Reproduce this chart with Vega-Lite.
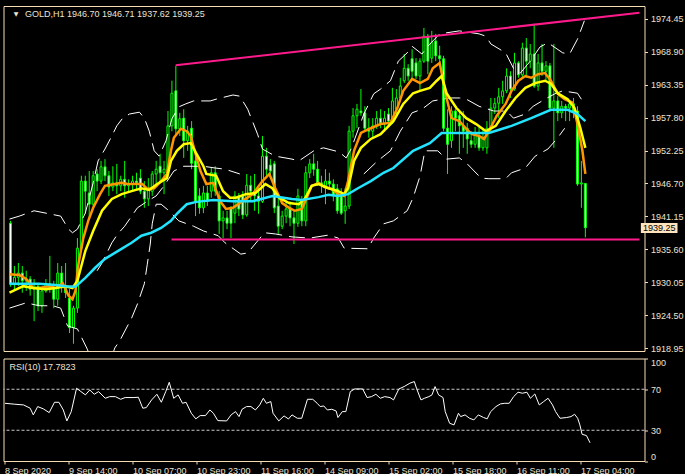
{
"$schema":"https://vega.github.io/schema/vega-lite/v6.json",
"background":"#000000",
"padding":{"left":2.5,"top":5,"right":0,"bottom":0},
"datasets":{
"c":[
{"i":0,"o":1940.0,"h":1940.4,"l":1929.3,"c":1929.8},{"i":1,"o":1929.8,"h":1932.8,"l":1928.6,"c":1930.9},{"i":2,"o":1930.9,"h":1933.3,"l":1929.4,"c":1931.6},{"i":3,"o":1931.6,"h":1932.8,"l":1928.3,"c":1930.3},{"i":4,"o":1930.3,"h":1932.0,"l":1928.6,"c":1930.6},{"i":5,"o":1930.6,"h":1931.1,"l":1927.8,"c":1928.9},{"i":6,"o":1928.9,"h":1930.6,"l":1923.5,"c":1929.4},{"i":7,"o":1929.4,"h":1929.9,"l":1925.2,"c":1926.1},{"i":8,"o":1926.1,"h":1928.9,"l":1924.9,"c":1928.6},{"i":9,"o":1928.6,"h":1930.6,"l":1928.3,"c":1929.8},
{"i":10,"o":1929.8,"h":1934.5,"l":1928.3,"c":1929.1},{"i":11,"o":1929.1,"h":1930.3,"l":1925.7,"c":1927.2},{"i":12,"o":1927.2,"h":1933.3,"l":1926.1,"c":1931.6},{"i":13,"o":1931.6,"h":1932.8,"l":1928.3,"c":1929.4},{"i":14,"o":1929.4,"h":1933.3,"l":1927.4,"c":1928.3},{"i":15,"o":1927.4,"h":1928.9,"l":1921.5,"c":1922.4},{"i":16,"o":1922.4,"h":1926.1,"l":1919.7,"c":1925.7},{"i":17,"o":1925.7,"h":1937.5,"l":1924.9,"c":1935.8},{"i":18,"o":1935.8,"h":1948.0,"l":1935.3,"c":1947.1},{"i":19,"o":1947.1,"h":1948.0,"l":1941.6,"c":1945.4},
{"i":20,"o":1945.1,"h":1948.8,"l":1940.9,"c":1943.2},{"i":21,"o":1943.2,"h":1948.8,"l":1942.9,"c":1948.0},{"i":22,"o":1948.3,"h":1949.1,"l":1945.4,"c":1947.1},{"i":23,"o":1947.1,"h":1950.5,"l":1946.6,"c":1949.5},{"i":24,"o":1949.5,"h":1950.8,"l":1947.1,"c":1948.0},{"i":25,"o":1948.0,"h":1948.8,"l":1944.6,"c":1946.1},{"i":26,"o":1946.1,"h":1949.6,"l":1945.4,"c":1946.8},{"i":27,"o":1946.8,"h":1950.0,"l":1944.9,"c":1946.3},{"i":28,"o":1946.3,"h":1948.0,"l":1945.4,"c":1947.4},{"i":29,"o":1947.4,"h":1950.5,"l":1944.3,"c":1946.3},
{"i":30,"o":1946.3,"h":1947.4,"l":1945.1,"c":1946.6},{"i":31,"o":1946.6,"h":1948.0,"l":1945.4,"c":1947.1},{"i":32,"o":1947.1,"h":1948.5,"l":1945.8,"c":1946.8},{"i":33,"o":1947.6,"h":1949.1,"l":1944.9,"c":1945.4},{"i":34,"o":1945.4,"h":1947.1,"l":1942.6,"c":1944.1},{"i":35,"o":1944.1,"h":1947.6,"l":1942.9,"c":1945.8},{"i":36,"o":1945.4,"h":1948.8,"l":1944.6,"c":1948.3},{"i":37,"o":1948.3,"h":1950.5,"l":1946.6,"c":1949.1},{"i":38,"o":1949.6,"h":1951.7,"l":1947.1,"c":1948.5},{"i":39,"o":1948.5,"h":1950.5,"l":1944.9,"c":1949.1},
{"i":40,"o":1948.8,"h":1958.9,"l":1948.5,"c":1956.4},{"i":41,"o":1956.4,"h":1964.0,"l":1955.5,"c":1961.9},{"i":42,"o":1962.3,"h":1966.5,"l":1954.7,"c":1955.9},{"i":43,"o":1955.9,"h":1958.6,"l":1954.7,"c":1957.6},{"i":44,"o":1957.7,"h":1959.2,"l":1951.0,"c":1953.9},{"i":45,"o":1953.9,"h":1956.4,"l":1952.2,"c":1955.5},{"i":46,"o":1956.0,"h":1957.2,"l":1949.1,"c":1950.1},{"i":47,"o":1950.5,"h":1952.2,"l":1941.2,"c":1943.7},{"i":48,"o":1944.6,"h":1945.9,"l":1941.6,"c":1942.6},{"i":49,"o":1942.6,"h":1946.3,"l":1941.7,"c":1945.1},
{"i":50,"o":1945.1,"h":1946.3,"l":1942.9,"c":1943.7},{"i":51,"o":1945.4,"h":1949.3,"l":1944.3,"c":1948.5},{"i":52,"o":1948.5,"h":1949.6,"l":1944.6,"c":1945.4},{"i":53,"o":1944.6,"h":1945.4,"l":1938.2,"c":1940.4},{"i":54,"o":1940.4,"h":1942.1,"l":1937.5,"c":1940.9},{"i":55,"o":1940.9,"h":1942.1,"l":1939.0,"c":1940.0},{"i":56,"o":1942.6,"h":1942.9,"l":1937.5,"c":1940.0},{"i":57,"o":1941.7,"h":1945.4,"l":1940.0,"c":1944.6},{"i":58,"o":1944.6,"h":1945.1,"l":1941.2,"c":1942.4},{"i":59,"o":1944.6,"h":1945.4,"l":1940.7,"c":1941.4},
{"i":60,"o":1941.4,"h":1948.3,"l":1941.1,"c":1946.4},{"i":61,"o":1946.4,"h":1948.0,"l":1943.7,"c":1945.4},{"i":62,"o":1945.4,"h":1948.3,"l":1942.1,"c":1944.6},{"i":63,"o":1944.6,"h":1946.3,"l":1941.6,"c":1943.7},{"i":64,"o":1943.7,"h":1954.7,"l":1943.4,"c":1951.3},{"i":65,"o":1951.3,"h":1952.7,"l":1948.0,"c":1949.1},{"i":66,"o":1949.8,"h":1950.8,"l":1947.6,"c":1948.8},{"i":67,"o":1950.0,"h":1950.5,"l":1941.7,"c":1942.6},{"i":68,"o":1942.9,"h":1944.3,"l":1938.2,"c":1939.5},{"i":69,"o":1939.5,"h":1942.1,"l":1939.0,"c":1941.2},
{"i":70,"o":1941.2,"h":1943.7,"l":1940.0,"c":1942.4},{"i":71,"o":1942.6,"h":1943.7,"l":1939.5,"c":1940.9},{"i":72,"o":1940.9,"h":1942.1,"l":1936.5,"c":1940.0},{"i":73,"o":1940.0,"h":1945.8,"l":1939.4,"c":1944.6},{"i":74,"o":1943.7,"h":1944.6,"l":1939.5,"c":1940.4},{"i":75,"o":1940.4,"h":1949.6,"l":1939.5,"c":1948.5},{"i":76,"o":1948.5,"h":1950.8,"l":1947.6,"c":1950.0},{"i":77,"o":1950.0,"h":1951.7,"l":1948.0,"c":1949.1},{"i":78,"o":1949.1,"h":1950.5,"l":1946.3,"c":1946.8},{"i":79,"o":1946.8,"h":1948.0,"l":1945.1,"c":1946.3},
{"i":80,"o":1946.3,"h":1949.1,"l":1943.2,"c":1947.1},{"i":81,"o":1947.1,"h":1948.5,"l":1945.8,"c":1946.6},{"i":82,"o":1946.6,"h":1947.4,"l":1943.7,"c":1944.6},{"i":83,"o":1945.8,"h":1946.6,"l":1941.6,"c":1942.1},{"i":84,"o":1944.6,"h":1945.9,"l":1941.4,"c":1941.7},{"i":85,"o":1942.1,"h":1945.9,"l":1939.9,"c":1942.9},{"i":86,"o":1942.9,"h":1956.4,"l":1942.4,"c":1955.5},{"i":87,"o":1955.5,"h":1959.4,"l":1954.4,"c":1958.1},{"i":88,"o":1958.1,"h":1960.1,"l":1956.0,"c":1959.2},{"i":89,"o":1958.9,"h":1962.6,"l":1958.1,"c":1958.6},
{"i":90,"o":1958.6,"h":1959.7,"l":1955.5,"c":1956.0},{"i":91,"o":1956.0,"h":1957.7,"l":1954.4,"c":1955.5},{"i":92,"o":1955.5,"h":1957.7,"l":1954.4,"c":1956.4},{"i":93,"o":1956.4,"h":1958.9,"l":1955.9,"c":1957.7},{"i":94,"o":1957.7,"h":1959.2,"l":1956.0,"c":1956.9},{"i":95,"o":1956.9,"h":1958.9,"l":1955.5,"c":1957.7},{"i":96,"o":1958.4,"h":1959.4,"l":1956.4,"c":1957.2},{"i":97,"o":1957.2,"h":1962.8,"l":1956.7,"c":1960.6},{"i":98,"o":1959.2,"h":1962.6,"l":1958.4,"c":1961.1},{"i":99,"o":1961.1,"h":1964.5,"l":1960.6,"c":1963.1},
{"i":100,"o":1964.0,"h":1968.5,"l":1963.6,"c":1966.1},{"i":101,"o":1966.1,"h":1966.8,"l":1964.0,"c":1964.8},{"i":102,"o":1967.7,"h":1969.3,"l":1964.5,"c":1965.6},{"i":103,"o":1967.0,"h":1967.8,"l":1964.3,"c":1964.8},{"i":104,"o":1964.8,"h":1967.8,"l":1962.3,"c":1967.3},{"i":105,"o":1967.3,"h":1972.9,"l":1967.0,"c":1971.5},{"i":106,"o":1971.5,"h":1971.9,"l":1965.1,"c":1967.3},{"i":107,"o":1967.8,"h":1972.4,"l":1967.0,"c":1970.4},{"i":108,"o":1970.7,"h":1971.9,"l":1967.3,"c":1968.2},{"i":109,"o":1968.2,"h":1969.9,"l":1966.5,"c":1967.7},
{"i":110,"o":1967.7,"h":1968.2,"l":1955.5,"c":1956.0},{"i":111,"o":1956.0,"h":1959.2,"l":1948.3,"c":1953.3},{"i":112,"o":1953.9,"h":1959.7,"l":1952.7,"c":1958.9},{"i":113,"o":1958.9,"h":1959.2,"l":1955.5,"c":1957.7},{"i":114,"o":1958.1,"h":1958.9,"l":1951.7,"c":1956.4},{"i":115,"o":1956.4,"h":1958.9,"l":1952.7,"c":1955.5},{"i":116,"o":1956.0,"h":1956.9,"l":1951.7,"c":1954.2},{"i":117,"o":1953.9,"h":1955.5,"l":1952.7,"c":1953.3},{"i":118,"o":1953.3,"h":1956.2,"l":1952.7,"c":1955.2},{"i":119,"o":1954.7,"h":1956.4,"l":1952.2,"c":1952.7},
{"i":120,"o":1952.7,"h":1956.0,"l":1952.2,"c":1954.2},{"i":121,"o":1952.7,"h":1957.2,"l":1951.7,"c":1956.0},{"i":122,"o":1956.0,"h":1961.1,"l":1955.5,"c":1959.4},{"i":123,"o":1959.4,"h":1961.1,"l":1958.4,"c":1960.2},{"i":124,"o":1960.2,"h":1962.8,"l":1957.7,"c":1961.3},{"i":125,"o":1961.3,"h":1964.0,"l":1960.1,"c":1962.3},{"i":126,"o":1962.3,"h":1966.1,"l":1961.9,"c":1964.8},{"i":127,"o":1964.8,"h":1965.6,"l":1961.1,"c":1962.6},{"i":128,"o":1962.6,"h":1968.7,"l":1962.3,"c":1967.0},{"i":129,"o":1967.0,"h":1967.3,"l":1964.5,"c":1965.0},
{"i":130,"o":1965.0,"h":1970.4,"l":1964.6,"c":1969.5},{"i":131,"o":1969.5,"h":1971.2,"l":1964.5,"c":1967.3},{"i":132,"o":1967.3,"h":1970.2,"l":1966.1,"c":1968.5},{"i":133,"o":1968.5,"h":1973.6,"l":1962.8,"c":1963.1},{"i":134,"o":1963.1,"h":1968.5,"l":1962.3,"c":1967.0},{"i":135,"o":1967.0,"h":1970.2,"l":1964.8,"c":1965.6},{"i":136,"o":1965.6,"h":1967.3,"l":1964.0,"c":1966.5},{"i":137,"o":1966.5,"h":1967.0,"l":1958.9,"c":1959.4},{"i":138,"o":1959.4,"h":1970.2,"l":1952.7,"c":1960.6},{"i":139,"o":1960.6,"h":1961.4,"l":1957.2,"c":1958.6},
{"i":140,"o":1958.6,"h":1960.6,"l":1957.7,"c":1959.7},{"i":141,"o":1959.7,"h":1960.1,"l":1957.2,"c":1959.4},{"i":142,"o":1959.4,"h":1960.6,"l":1957.2,"c":1960.1},{"i":143,"o":1960.1,"h":1961.1,"l":1957.7,"c":1958.9},{"i":144,"o":1958.9,"h":1959.7,"l":1946.3,"c":1946.6},{"i":145,"o":1946.6,"h":1950.5,"l":1942.6,"c":1946.8},{"i":146,"o":1946.70,"h":1946.71,"l":1937.62,"c":1939.25}
],
"ma":[
{"s":"o","i":-0.25,"v":1931.4},{"s":"o","i":2.25,"v":1931.3},{"s":"o","i":4,"v":1930.6},{"s":"o","i":5.75,"v":1929.1},{"s":"o","i":7.25,"v":1929.1},{"s":"o","i":9.75,"v":1929.4},{"s":"o","i":11.5,"v":1929.1},{"s":"o","i":13.25,"v":1929.9},{"s":"o","i":14.75,"v":1927.8},{"s":"o","i":15.75,"v":1927.2},{"s":"o","i":16.5,"v":1928.6},{"s":"o","i":17.25,"v":1933.1},{"s":"o","i":18.5,"v":1937.5},{"s":"o","i":19.75,"v":1940.4},{"s":"o","i":21,"v":1942.6},{"s":"o","i":22.75,"v":1944.9},{"s":"o","i":24,"v":1946.3},{"s":"o","i":26.5,"v":1946.6},{"s":"o","i":28.25,"v":1946.8},{"s":"o","i":29.75,"v":1946.6},{"s":"o","i":32.25,"v":1946.6},{"s":"o","i":33.5,"v":1946.6},{"s":"o","i":34.75,"v":1945.8},{"s":"o","i":36.5,"v":1945.9},{"s":"o","i":38.25,"v":1947.1},{"s":"o","i":39.75,"v":1948.3},{"s":"o","i":40.75,"v":1952.2},{"s":"o","i":41.5,"v":1954.4},{"s":"o","i":43.25,"v":1955.9},{"s":"o","i":44.75,"v":1955.5},{"s":"o","i":45.75,"v":1954.7},{"s":"o","i":47,"v":1951.7},{"s":"o","i":48.25,"v":1948.8},{"s":"o","i":49.75,"v":1946.6},{"s":"o","i":51.5,"v":1946.8},{"s":"o","i":53.25,"v":1943.7},{"s":"o","i":54.75,"v":1942.4},{"s":"o","i":56.5,"v":1942.6},{"s":"o","i":58.25,"v":1943.4},{"s":"o","i":59.75,"v":1944.1},{"s":"o","i":61.5,"v":1944.9},{"s":"o","i":64,"v":1947.1},{"s":"o","i":65.75,"v":1948.3},{"s":"o","i":67.25,"v":1945.9},{"s":"o","i":69,"v":1943.4},{"s":"o","i":70.75,"v":1942.6},{"s":"o","i":72.25,"v":1942.1},{"s":"o","i":74,"v":1942.4},{"s":"o","i":75.25,"v":1944.3},{"s":"o","i":76.5,"v":1946.3},{"s":"o","i":78.25,"v":1946.8},{"s":"o","i":79.75,"v":1946.1},{"s":"o","i":81.5,"v":1945.8},{"s":"o","i":83.25,"v":1944.9},{"s":"o","i":84.75,"v":1944.6},{"s":"o","i":85.75,"v":1947.1},{"s":"o","i":87.25,"v":1952.2},{"s":"o","i":89,"v":1955.2},{"s":"o","i":91.5,"v":1956.0},{"s":"o","i":94,"v":1956.7},{"s":"o","i":96.5,"v":1956.9},{"s":"o","i":98.25,"v":1959.4},{"s":"o","i":99.75,"v":1962.3},{"s":"o","i":102,"v":1964.3},{"s":"o","i":104,"v":1963.6},{"s":"o","i":106,"v":1964.3},{"s":"o","i":107.25,"v":1966.1},{"s":"o","i":109,"v":1967.0},{"s":"o","i":109.75,"v":1964.5},{"s":"o","i":110.75,"v":1961.1},{"s":"o","i":112,"v":1957.7},{"s":"o","i":114,"v":1957.2},{"s":"o","i":115.75,"v":1955.9},{"s":"o","i":117.25,"v":1955.0},{"s":"o","i":119,"v":1954.7},{"s":"o","i":120.25,"v":1954.2},{"s":"o","i":121.5,"v":1955.5},{"s":"o","i":123.5,"v":1958.1},{"s":"o","i":125.75,"v":1960.1},{"s":"o","i":127.25,"v":1962.3},{"s":"o","i":129,"v":1964.0},{"s":"o","i":130.75,"v":1964.8},{"s":"o","i":132.25,"v":1964.5},{"s":"o","i":134,"v":1965.1},{"s":"o","i":135.75,"v":1965.3},{"s":"o","i":137.25,"v":1964.0},{"s":"o","i":139,"v":1961.8},{"s":"o","i":140.75,"v":1960.9},{"s":"o","i":142.75,"v":1960.3},{"s":"o","i":144,"v":1956.7},{"s":"o","i":145.25,"v":1952.2},{"s":"o","i":146,"v":1948.3},
{"s":"y","i":-0.25,"v":1928.3},{"s":"y","i":3.25,"v":1929.4},{"s":"y","i":5.75,"v":1929.1},{"s":"y","i":9,"v":1928.9},{"s":"y","i":11.5,"v":1929.1},{"s":"y","i":14,"v":1929.4},{"s":"y","i":15.75,"v":1929.1},{"s":"y","i":17,"v":1930.3},{"s":"y","i":19,"v":1935.3},{"s":"y","i":21,"v":1938.7},{"s":"y","i":23.25,"v":1942.1},{"s":"y","i":25.75,"v":1944.1},{"s":"y","i":28.25,"v":1944.9},{"s":"y","i":30.75,"v":1945.4},{"s":"y","i":33.25,"v":1945.9},{"s":"y","i":35.25,"v":1945.6},{"s":"y","i":37.25,"v":1946.6},{"s":"y","i":39.75,"v":1947.6},{"s":"y","i":40.75,"v":1950.5},{"s":"y","i":42.25,"v":1952.2},{"s":"y","i":44,"v":1953.3},{"s":"y","i":45.75,"v":1953.5},{"s":"y","i":47.25,"v":1951.7},{"s":"y","i":49,"v":1949.6},{"s":"y","i":49.75,"v":1948.3},{"s":"y","i":52.25,"v":1948.0},{"s":"y","i":54,"v":1945.4},{"s":"y","i":55.75,"v":1944.3},{"s":"y","i":57.25,"v":1944.3},{"s":"y","i":59.75,"v":1944.9},{"s":"y","i":62.25,"v":1945.1},{"s":"y","i":64.75,"v":1946.6},{"s":"y","i":66.5,"v":1945.9},{"s":"y","i":68.25,"v":1944.3},{"s":"y","i":70.75,"v":1943.4},{"s":"y","i":73.25,"v":1943.2},{"s":"y","i":74.75,"v":1944.1},{"s":"y","i":76.5,"v":1946.3},{"s":"y","i":78.25,"v":1946.6},{"s":"y","i":80.75,"v":1945.9},{"s":"y","i":83.25,"v":1945.4},{"s":"y","i":84.75,"v":1944.9},{"s":"y","i":85.75,"v":1945.9},{"s":"y","i":87.25,"v":1950.5},{"s":"y","i":89,"v":1952.7},{"s":"y","i":91.5,"v":1954.2},{"s":"y","i":94,"v":1955.0},{"s":"y","i":97.25,"v":1957.2},{"s":"y","i":99.75,"v":1960.1},{"s":"y","i":102.25,"v":1961.9},{"s":"y","i":104,"v":1962.3},{"s":"y","i":106.5,"v":1962.8},{"s":"y","i":108.25,"v":1964.0},{"s":"y","i":109.5,"v":1964.8},{"s":"y","i":110.75,"v":1961.9},{"s":"y","i":113.25,"v":1959.4},{"s":"y","i":115.75,"v":1957.7},{"s":"y","i":118.25,"v":1956.7},{"s":"y","i":120.75,"v":1955.5},{"s":"y","i":123.25,"v":1956.4},{"s":"y","i":125.75,"v":1958.9},{"s":"y","i":128.25,"v":1961.1},{"s":"y","i":130.75,"v":1962.8},{"s":"y","i":133.25,"v":1963.6},{"s":"y","i":135.75,"v":1964.0},{"s":"y","i":137.25,"v":1963.5},{"s":"y","i":139,"v":1961.9},{"s":"y","i":141.5,"v":1960.9},{"s":"y","i":143.25,"v":1959.4},{"s":"y","i":144.75,"v":1956.0},{"s":"y","i":146,"v":1952.7},
{"s":"c","i":-0.25,"v":1929.8},{"s":"c","i":7.25,"v":1929.8},{"s":"c","i":11.5,"v":1929.6},{"s":"c","i":14,"v":1929.4},{"s":"c","i":16.5,"v":1929.3},{"s":"c","i":19,"v":1930.8},{"s":"c","i":21.5,"v":1932.5},{"s":"c","i":24,"v":1934.0},{"s":"c","i":27.25,"v":1935.3},{"s":"c","i":30.75,"v":1936.7},{"s":"c","i":33.25,"v":1937.9},{"s":"c","i":35.75,"v":1938.4},{"s":"c","i":38.25,"v":1939.2},{"s":"c","i":40.75,"v":1940.4},{"s":"c","i":42.25,"v":1941.6},{"s":"c","i":44.75,"v":1943.2},{"s":"c","i":47.25,"v":1943.6},{"s":"c","i":51.5,"v":1943.9},{"s":"c","i":56.5,"v":1943.7},{"s":"c","i":61.5,"v":1943.7},{"s":"c","i":66.5,"v":1944.6},{"s":"c","i":71.5,"v":1944.1},{"s":"c","i":74,"v":1943.9},{"s":"c","i":78.25,"v":1944.4},{"s":"c","i":80.75,"v":1944.8},{"s":"c","i":83.25,"v":1944.6},{"s":"c","i":85.75,"v":1944.9},{"s":"c","i":88.25,"v":1945.9},{"s":"c","i":91.5,"v":1947.1},{"s":"c","i":94.75,"v":1948.5},{"s":"c","i":97.25,"v":1949.3},{"s":"c","i":102.25,"v":1952.2},{"s":"c","i":106.5,"v":1953.5},{"s":"c","i":109.5,"v":1955.2},{"s":"c","i":114.75,"v":1955.2},{"s":"c","i":121.5,"v":1955.2},{"s":"c","i":127.25,"v":1956.4},{"s":"c","i":132.25,"v":1957.7},{"s":"c","i":137.25,"v":1959.1},{"s":"c","i":141.5,"v":1959.1},{"s":"c","i":144,"v":1958.4},{"s":"c","i":146,"v":1957.2}
],
"bb":[
{"g":"U","i":-0.25,"v":1940.7},{"g":"U","i":2.25,"v":1941.2},{"g":"U","i":6,"v":1942.1},{"g":"U","i":9.75,"v":1941.6},{"g":"U","i":12.75,"v":1941.2},{"g":"U","i":14.75,"v":1939.0},{"g":"U","i":15.75,"v":1938.4},{"g":"U","i":17,"v":1939.0},{"g":"U","i":19,"v":1941.7},{"g":"U","i":21,"v":1946.8},{"g":"U","i":22.25,"v":1950.5},{"g":"U","i":24,"v":1952.5},{"g":"U","i":25.75,"v":1954.7},{"g":"U","i":27,"v":1956.4},{"g":"U","i":28.5,"v":1957.7},{"g":"U","i":30.25,"v":1958.4},{"g":"U","i":32.75,"v":1958.7},{"g":"U","i":34,"v":1957.7},{"g":"U","i":35.25,"v":1955.5},{"g":"U","i":36.5,"v":1952.2},{"g":"U","i":37.75,"v":1951.3},{"g":"U","i":39.5,"v":1953.9},{"g":"U","i":41,"v":1957.6},{"g":"U","i":42.75,"v":1959.6},{"g":"U","i":44.5,"v":1960.1},{"g":"U","i":46.5,"v":1960.6},{"g":"U","i":50.75,"v":1960.6},{"g":"U","i":52.25,"v":1960.9},{"g":"U","i":56.5,"v":1961.6},{"g":"U","i":58.25,"v":1961.4},{"g":"U","i":60.25,"v":1959.2},{"g":"U","i":62.75,"v":1955.0},{"g":"U","i":64,"v":1952.5},{"g":"U","i":67.25,"v":1951.3},{"g":"U","i":71.5,"v":1950.8},{"g":"U","i":73.25,"v":1950.5},{"g":"U","i":77.25,"v":1952.3},{"g":"U","i":79.5,"v":1952.7},{"g":"U","i":83.5,"v":1952.0},{"g":"U","i":85.25,"v":1951.0},{"g":"U","i":86.5,"v":1952.5},{"g":"U","i":89.75,"v":1958.4},{"g":"U","i":92.25,"v":1961.8},{"g":"U","i":94,"v":1962.6},{"g":"U","i":96.5,"v":1964.0},{"g":"U","i":98.5,"v":1967.3},{"g":"U","i":100.75,"v":1968.7},{"g":"U","i":102,"v":1969.8},{"g":"U","i":104.5,"v":1968.5},{"g":"U","i":106,"v":1969.8},{"g":"U","i":109,"v":1971.9},{"g":"U","i":114,"v":1972.4},{"g":"U","i":119,"v":1971.9},{"g":"U","i":120.75,"v":1971.5},{"g":"U","i":122,"v":1970.2},{"g":"U","i":125.75,"v":1968.7},{"g":"U","i":127.75,"v":1966.1},{"g":"U","i":129.5,"v":1965.3},{"g":"U","i":132,"v":1967.3},{"g":"U","i":134.5,"v":1969.7},{"g":"U","i":136.5,"v":1970.4},{"g":"U","i":140.25,"v":1968.7},{"g":"U","i":142,"v":1968.5},{"g":"U","i":144,"v":1971.0},{"g":"U","i":145.75,"v":1974.1},
{"g":"M1","i":22,"v":1932.0},{"g":"M1","i":23.25,"v":1933.3},{"g":"M1","i":25.75,"v":1936.7},{"g":"M1","i":27.25,"v":1938.2},{"g":"M1","i":29,"v":1939.5},{"g":"M1","i":32.25,"v":1942.6},{"g":"M1","i":34.75,"v":1943.7},{"g":"M1","i":37,"v":1944.6},{"g":"M1","i":39,"v":1946.3},{"g":"M1","i":41.5,"v":1948.8},{"g":"M1","i":44,"v":1949.6},{"g":"M1","i":49,"v":1949.6},{"g":"M1","i":52,"v":1949.3},{"g":"M1","i":54.5,"v":1949.1},{"g":"M1","i":58.25,"v":1948.3},
{"g":"M2","i":89.75,"v":1948.3},{"g":"M2","i":93.25,"v":1950.5},{"g":"M2","i":96.5,"v":1952.2},{"g":"M2","i":99,"v":1955.5},{"g":"M2","i":102,"v":1958.6},{"g":"M2","i":104.5,"v":1959.2},{"g":"M2","i":107.25,"v":1960.6},{"g":"M2","i":111.5,"v":1961.1},{"g":"M2","i":114,"v":1961.1},{"g":"M2","i":115.75,"v":1960.9},{"g":"M2","i":119,"v":1959.7},{"g":"M2","i":122.75,"v":1958.9},{"g":"M2","i":126,"v":1958.9},{"g":"M2","i":127.75,"v":1957.7},{"g":"M2","i":130.75,"v":1958.4},{"g":"M2","i":132.75,"v":1959.7},{"g":"M2","i":135.75,"v":1960.9},{"g":"M2","i":138.25,"v":1961.8},{"g":"M2","i":140.25,"v":1962.3},{"g":"M2","i":144,"v":1961.9},{"g":"M2","i":145.75,"v":1960.1},
{"g":"L1","i":-0.25,"v":1925.7},{"g":"L1","i":4,"v":1926.6},{"g":"L1","i":7.25,"v":1926.1},{"g":"L1","i":10.75,"v":1926.1},{"g":"L1","i":12.75,"v":1925.7},{"g":"L1","i":14.5,"v":1922.7},{"g":"L1","i":16,"v":1922.4},{"g":"L1","i":17,"v":1922.2},{"g":"L1","i":18.25,"v":1920.5},{"g":"L1","i":19.5,"v":1918.8},{"g":"L1","i":20.5,"v":1917.1},
{"g":"L2","i":25.5,"v":1917.1},{"g":"L2","i":26.5,"v":1919.0},{"g":"L2","i":27.75,"v":1920.2},{"g":"L2","i":30.75,"v":1924.0},{"g":"L2","i":32.25,"v":1926.4},{"g":"L2","i":34,"v":1929.8},{"g":"L2","i":34.75,"v":1933.1},{"g":"L2","i":35.5,"v":1936.5},{"g":"L2","i":36,"v":1939.9},{"g":"L2","i":37,"v":1943.2},{"g":"L2","i":38.25,"v":1943.2},{"g":"L2","i":40.25,"v":1942.1},{"g":"L2","i":42.75,"v":1940.4},{"g":"L2","i":46.5,"v":1939.5},{"g":"L2","i":49,"v":1938.7},{"g":"L2","i":52.75,"v":1937.9},{"g":"L2","i":54.5,"v":1936.7},{"g":"L2","i":58.5,"v":1934.8},{"g":"L2","i":60.25,"v":1935.0},{"g":"L2","i":62.75,"v":1937.0},{"g":"L2","i":64.5,"v":1938.4},{"g":"L2","i":67.25,"v":1938.2},{"g":"L2","i":71.5,"v":1937.7},{"g":"L2","i":76,"v":1937.5},{"g":"L2","i":80.75,"v":1938.0},{"g":"L2","i":83.25,"v":1937.5},{"g":"L2","i":84.75,"v":1935.8},{"g":"L2","i":90.75,"v":1935.7},{"g":"L2","i":92.25,"v":1937.5},{"g":"L2","i":94.75,"v":1939.9},{"g":"L2","i":97.25,"v":1940.4},{"g":"L2","i":100.75,"v":1942.1},{"g":"L2","i":102.25,"v":1944.3},{"g":"L2","i":104,"v":1947.9},{"g":"L2","i":105.25,"v":1952.2},{"g":"L2","i":108.5,"v":1952.2},{"g":"L2","i":110.75,"v":1950.8},{"g":"L2","i":114,"v":1951.0},{"g":"L2","i":116,"v":1950.0},{"g":"L2","i":119.5,"v":1947.6},{"g":"L2","i":121.5,"v":1947.5},{"g":"L2","i":125.75,"v":1947.5},{"g":"L2","i":127.25,"v":1948.5},{"g":"L2","i":130.75,"v":1949.3},{"g":"L2","i":133.25,"v":1951.3},{"g":"L2","i":136.5,"v":1952.5},{"g":"L2","i":139,"v":1954.4},{"g":"L2","i":140.75,"v":1956.0}
],
"tl":[{"g":"a","i":41.95,"v":1966.6},{"g":"a","i":159.75,"v":1975.46},{"g":"b","i":40.9,"v":1937.26},{"g":"b","i":159.75,"v":1937.26}],
"pb":[{"x1":160.1,"x2":169.4,"y1":1940.04,"y2":1938.35,"xm":164.75,"ym":1939.2,"t":"1939.25"}],
"tri":[{"i":1.45,"v":1975.2,"t":"▼"}],
"tt":[{"i":3.7,"v":1975.2,"t":"GOLD,H1  1946.70 1946.71 1937.62 1939.25"}],
"rsi":[
{"i":-0.12,"v":56.3},{"i":2.31,"v":55.4},{"i":4.52,"v":54.7},{"i":6.17,"v":51.5},{"i":6.95,"v":45.0},{"i":8.05,"v":53.1},{"i":9.49,"v":50.8},{"i":10.92,"v":47.2},{"i":12.25,"v":57.3},{"i":13.35,"v":57.3},{"i":14.45,"v":49.8},{"i":15.34,"v":39.1},{"i":16.44,"v":48.2},{"i":17.76,"v":71.0},{"i":18.87,"v":67.7},{"i":19.97,"v":64.5},{"i":21.08,"v":69.3},{"i":22.18,"v":65.1},{"i":23.28,"v":67.7},{"i":24.94,"v":61.2},{"i":26.04,"v":62.8},{"i":27.48,"v":62.8},{"i":28.8,"v":60.2},{"i":29.91,"v":61.9},{"i":32.11,"v":61.9},{"i":33.22,"v":62.2},{"i":34.32,"v":51.5},{"i":35.2,"v":52.1},{"i":36.53,"v":59.6},{"i":37.85,"v":65.1},{"i":38.96,"v":57.3},{"i":40.06,"v":67.7},{"i":40.94,"v":76.8},{"i":42.05,"v":61.2},{"i":43.15,"v":64.5},{"i":44.25,"v":56.3},{"i":45.14,"v":57.3},{"i":46.46,"v":46.6},{"i":47.57,"v":41.1},{"i":48.67,"v":44.3},{"i":49.99,"v":44.3},{"i":51.1,"v":49.8},{"i":51.98,"v":46.6},{"i":53.08,"v":39.4},{"i":55.29,"v":39.1},{"i":56.4,"v":45.0},{"i":57.5,"v":48.2},{"i":58.38,"v":43.3},{"i":59.15,"v":50.5},{"i":60.26,"v":53.1},{"i":61.36,"v":53.1},{"i":62.47,"v":49.8},{"i":63.57,"v":54.7},{"i":64.45,"v":61.2},{"i":65.23,"v":56.3},{"i":66.33,"v":58.0},{"i":66.88,"v":46.6},{"i":68.32,"v":39.1},{"i":69.64,"v":44.0},{"i":70.74,"v":41.0},{"i":71.63,"v":45.0},{"i":72.95,"v":41.7},{"i":74.06,"v":41.7},{"i":75.49,"v":60.2},{"i":76.81,"v":60.2},{"i":77.92,"v":56.3},{"i":78.69,"v":53.1},{"i":79.57,"v":53.7},{"i":80.46,"v":49.8},{"i":81.56,"v":50.5},{"i":82.66,"v":48.8},{"i":83.11,"v":42.4},{"i":84.21,"v":48.2},{"i":85.09,"v":48.2},{"i":86.2,"v":67.7},{"i":87.3,"v":70.3},{"i":89.29,"v":70.3},{"i":90.39,"v":61.9},{"i":91.5,"v":62.8},{"i":92.6,"v":65.1},{"i":93.7,"v":61.2},{"i":94.8,"v":62.8},{"i":96.13,"v":61.9},{"i":97.01,"v":59.6},{"i":98.34,"v":70.3},{"i":99.66,"v":72.6},{"i":101.1,"v":75.9},{"i":102.2,"v":77.5},{"i":102.75,"v":71.0},{"i":103.86,"v":59.6},{"i":104.74,"v":61.2},{"i":105.84,"v":62.8},{"i":106.62,"v":64.5},{"i":107.39,"v":72.6},{"i":108.27,"v":64.5},{"i":109.38,"v":61.9},{"i":109.93,"v":48.2},{"i":111.03,"v":36.8},{"i":112.14,"v":35.2},{"i":113.24,"v":46.6},{"i":113.79,"v":43.3},{"i":114.89,"v":45.0},{"i":116,"v":41.7},{"i":117.1,"v":40.1},{"i":118.2,"v":45.0},{"i":119.53,"v":42.4},{"i":120.41,"v":41.1},{"i":121.3,"v":48.2},{"i":122.62,"v":53.1},{"i":123.72,"v":55.7},{"i":124.83,"v":56.3},{"i":125.93,"v":56.3},{"i":127.03,"v":62.8},{"i":128.14,"v":67.1},{"i":129.24,"v":66.1},{"i":130.35,"v":67.1},{"i":131.23,"v":61.2},{"i":132.33,"v":65.4},{"i":133.44,"v":54.7},{"i":134.54,"v":58.0},{"i":135.64,"v":61.2},{"i":136.75,"v":54.7},{"i":137.52,"v":48.2},{"i":138.62,"v":41.7},{"i":140.28,"v":42.4},{"i":141.38,"v":43.3},{"i":142.27,"v":45.6},{"i":143.04,"v":41.7},{"i":143.59,"v":35.2},{"i":144.14,"v":26.1},{"i":145.24,"v":24.8},{"i":146.13,"v":17.78}
],
"lv":[{"y":30},{"y":70}],
"rl":[{"i":1,"v":92.1,"t":"RSI(10) 17.7823"}]
},
"vconcat":[
{
"width":641,"height":345,
"layer":[
{"data":{"name":"c"},"mark":{"type":"rule","color":"#00ff00","strokeWidth":1},
 "encoding":{
  "x":{"field":"i","type":"quantitative","scale":{"domain":[-0.5,159.75],"nice":false,"zero":false},"axis":null},
  "y":{"field":"h","type":"quantitative","scale":{"domain":[1918.48,1976.59],"nice":false,"zero":false},
       "axis":{"orient":"right","title":null,"values":[1918.95,1924.5,1930.05,1935.6,1941.15,1946.7,1952.25,1957.8,1963.35,1968.9,1974.45],"tickCount":30,"format":".2f","tickSize":3,"labelPadding":3,"labelOverlap":false,"labelBound":false}},
  "y2":{"field":"l"}}},
{"data":{"name":"c"},"mark":{"type":"bar","size":2,"stroke":"#00ff00","strokeWidth":1,"orient":"vertical"},
 "encoding":{
  "x":{"field":"i","type":"quantitative"},
  "y":{"field":"o","type":"quantitative"},
  "y2":{"field":"c"},
  "fill":{"condition":{"test":"datum.c >= datum.o","value":"#000000"},"value":"#ffffff"}}},
{"data":{"name":"bb"},"mark":{"type":"line","color":"#ffffff","strokeWidth":1,"strokeDash":[16,7],"clip":true},
 "encoding":{"x":{"field":"i","type":"quantitative"},"y":{"field":"v","type":"quantitative"},"detail":{"field":"g"}}},
{"data":{"name":"ma"},"transform":[{"filter":"datum.s == 'o'"}],"mark":{"type":"line","color":"#ff9500","strokeWidth":2.5},
 "encoding":{"x":{"field":"i","type":"quantitative"},"y":{"field":"v","type":"quantitative"}}},
{"data":{"name":"ma"},"transform":[{"filter":"datum.s == 'y'"}],"mark":{"type":"line","color":"#ffff00","strokeWidth":2.5},
 "encoding":{"x":{"field":"i","type":"quantitative"},"y":{"field":"v","type":"quantitative"}}},
{"data":{"name":"ma"},"transform":[{"filter":"datum.s == 'c'"}],"mark":{"type":"line","color":"#22e4ff","strokeWidth":2.5},
 "encoding":{"x":{"field":"i","type":"quantitative"},"y":{"field":"v","type":"quantitative"}}},
{"data":{"name":"tl"},"mark":{"type":"line","color":"#ff1a8c","strokeWidth":2},
 "encoding":{"x":{"field":"i","type":"quantitative"},"y":{"field":"v","type":"quantitative"},"detail":{"field":"g"}}},
{"data":{"name":"pb"},"mark":{"type":"rect","fill":"#ffe4bd"},
 "encoding":{"x":{"field":"x1","type":"quantitative"},"x2":{"field":"x2"},"y":{"field":"y1","type":"quantitative"},"y2":{"field":"y2"}}},
{"data":{"name":"pb"},"mark":{"type":"text","color":"#000000","font":"Liberation Sans","fontSize":9,"align":"center","baseline":"middle"},
 "encoding":{"x":{"field":"xm","type":"quantitative"},"y":{"field":"ym","type":"quantitative"},"text":{"field":"t"}}},
{"data":{"name":"tri"},"mark":{"type":"text","color":"#ece3d3","font":"DejaVu Sans","fontSize":6,"align":"center","baseline":"middle"},
 "encoding":{"x":{"field":"i","type":"quantitative"},"y":{"field":"v","type":"quantitative"},"text":{"field":"t"}}},
{"data":{"name":"tt"},"mark":{"type":"text","color":"#ece3d3","font":"Liberation Sans","fontSize":9,"align":"left","baseline":"middle"},
 "encoding":{"x":{"field":"i","type":"quantitative"},"y":{"field":"v","type":"quantitative"},"text":{"field":"t"}}}
]
},
{
"width":641,"height":102.5,
"layer":[
{"data":{"name":"lv"},"mark":{"type":"rule","color":"#c8c8c8","strokeWidth":1,"strokeDash":[3,2]},
 "encoding":{"y":{"field":"y","type":"quantitative","scale":{"domain":[0,100],"nice":false,"zero":false},
   "axis":{"orient":"right","title":null,"values":[0,30,70,100],"tickCount":10,"tickSize":3,"labelPadding":3,"labelFlush":true,"labelOverlap":false}}}},
{"data":{"name":"rsi"},"mark":{"type":"line","color":"#ffffff","strokeWidth":1,"clip":true},
 "encoding":{
  "x":{"field":"i","type":"quantitative","scale":{"domain":[-0.5,159.75],"nice":false,"zero":false},
       "axis":{"orient":"bottom","title":null,"values":[-0.25,15.75,31.75,47.75,63.75,79.75,95.75,111.75,127.75,143.75],"tickCount":30,
         "labelExpr":"['8 Sep 2020','9 Sep 14:00','10 Sep 07:00','10 Sep 23:00','11 Sep 16:00','14 Sep 09:00','15 Sep 02:00','15 Sep 18:00','16 Sep 11:00','17 Sep 04:00'][round((datum.value+0.25)/16)]",
         "labelAlign":"left","labelBaseline":"top","tickSize":3,"labelPadding":2,"labelOverlap":false,"labelBound":false,"labelFlush":false}},
  "y":{"field":"v","type":"quantitative"}}},
{"data":{"name":"rl"},"mark":{"type":"text","color":"#ece3d3","font":"Liberation Sans","fontSize":9,"align":"left","baseline":"middle"},
 "encoding":{"x":{"field":"i","type":"quantitative"},"y":{"field":"v","type":"quantitative"},"text":{"field":"t"}}}
]
}
],
"spacing":3.5,
"config":{
 "view":{"stroke":"#f5dcb4","strokeWidth":1},
 "axis":{"labelColor":"#ece3d3","labelFont":"Liberation Sans","labelFontSize":9,"tickColor":"#f5dcb4","domain":false,"grid":false}
}
}
